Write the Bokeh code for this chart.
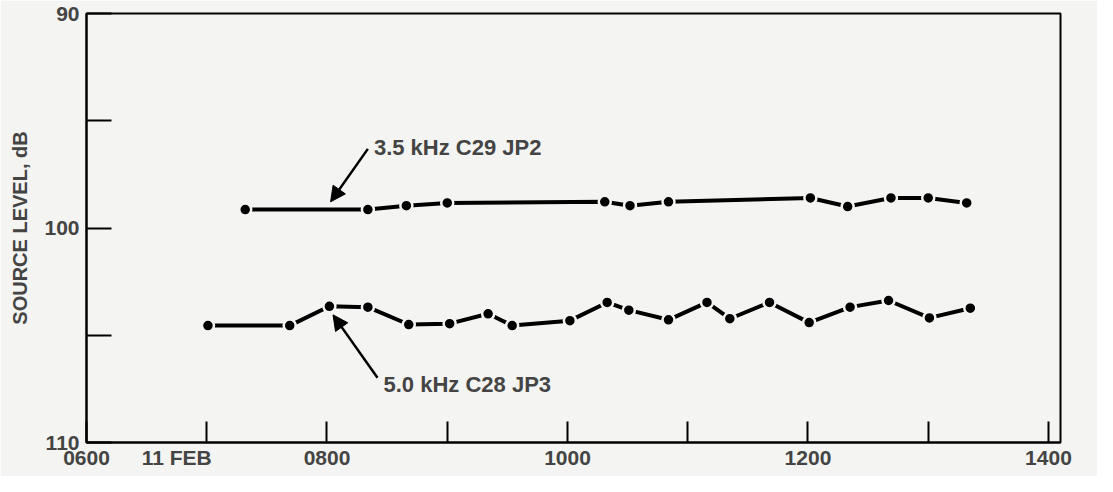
from bokeh.plotting import figure
from bokeh.models import Range1d, FixedTicker, Label, Arrow, NormalHead, LinearAxis
from bokeh.embed import file_html
from bokeh.resources import INLINE

# time of day in hours (11 FEB)
hours_35 = [7.32, 8.34, 8.66, 9.00, 10.31, 10.52, 10.84, 12.02, 12.33, 12.69, 13.00, 13.32]
level_35 = [99.14, 99.14, 98.96, 98.83, 98.78, 98.96, 98.78, 98.60, 99.00, 98.60, 98.60, 98.83]

hours_50 = [7.01, 7.69, 8.02, 8.34, 8.68, 9.02, 9.34, 9.54, 10.02, 10.33, 10.51, 10.84,
            11.16, 11.35, 11.68, 12.01, 12.35, 12.67, 13.01, 13.35]
level_50 = [104.55, 104.55, 103.65, 103.69, 104.50, 104.46, 104.00, 104.55, 104.32, 103.47,
            103.83, 104.28, 103.47, 104.23, 103.47, 104.41, 103.69, 103.38, 104.19, 103.74]

x_ticks = [6, 7, 8, 9, 10, 11, 12, 13, 14]
x_label_hours = [6, 6.75, 8, 10, 12, 14]
x_label_texts = ["0600", "11 FEB", "0800", "1000", "1200", "1400"]
y_ticks = [90, 95, 100, 105, 110]
y_tick_labels = {90: "90", 95: "", 100: "100", 105: "", 110: "110"}

label_35 = "3.5 kHz C29 JP2"
label_50 = "5.0 kHz C28 JP3"
y_title = "SOURCE LEVEL, dB"

FONT = "Liberation Sans"
BG = "#f4f4f2"

p = figure(width=1097, height=476, output_backend="svg", toolbar_location=None,
           x_range=Range1d(6, 14.1), y_range=Range1d(110, 90),
           min_border_left=86, min_border_right=37, min_border_top=13, min_border_bottom=34)
p.background_fill_color = BG
p.border_fill_color = BG
p.grid.visible = False
p.outline_line_color = "black"
p.outline_line_width = 2

# tick marks of the time axis (no labels)
xa = p.xaxis[0]
xa.ticker = FixedTicker(ticks=x_ticks)
xa.major_label_overrides = {t: "" for t in x_ticks}
xa.major_label_text_font_size = "0px"
xa.major_label_standoff = 0
xa.major_tick_in = 21
xa.major_tick_out = 0
xa.minor_tick_line_color = None
xa.major_tick_line_width = 2
xa.axis_line_width = 2

# labels of the time axis
xl = LinearAxis(ticker=FixedTicker(ticks=x_label_hours),
                major_label_overrides=dict(zip(x_label_hours, x_label_texts)),
                axis_line_color=None, major_tick_line_color=None, minor_tick_line_color=None,
                major_tick_in=0, major_tick_out=0, major_label_standoff=3,
                major_label_text_font=FONT, major_label_text_font_style="bold",
                major_label_text_font_size="21px")
p.add_layout(xl, "below")

ya = p.yaxis[0]
ya.ticker = FixedTicker(ticks=y_ticks)
ya.major_label_overrides = y_tick_labels
ya.major_tick_in = 25
ya.major_tick_out = 0
ya.minor_tick_line_color = None
ya.major_tick_line_width = 2
ya.axis_line_width = 2
ya.major_label_text_font = FONT
ya.major_label_text_font_style = "bold"
ya.major_label_text_font_size = "21px"
ya.major_label_standoff = 7
ya.axis_label = y_title
ya.axis_label_text_font = FONT
ya.axis_label_text_font_style = "bold"
ya.axis_label_text_font_size = "20px"
ya.axis_label_standoff = 10

for hx, ly in ((hours_35, level_35), (hours_50, level_50)):
    p.line(hx, ly, line_color="black", line_width=4)
    p.scatter(hx, ly, size=12, fill_color="black", line_color=BG, line_width=2.5)

p.add_layout(Arrow(x_start=8.34, y_start=96.31, x_end=8.03, y_end=98.78, line_width=2.5,
                   end=NormalHead(size=15, fill_color="black", line_color="black")))
p.add_layout(Arrow(x_start=8.42, y_start=106.98, x_end=8.05, y_end=104.05, line_width=2.5,
                   end=NormalHead(size=15, fill_color="black", line_color="black")))

p.add_layout(Label(x=8.39, y=96.26, text=label_35, text_align="left", text_baseline="middle",
                   text_font=FONT, text_font_style="bold", text_font_size="22px"))
p.add_layout(Label(x=8.47, y=107.3, text=label_50, text_align="left", text_baseline="middle",
                   text_font=FONT, text_font_style="bold", text_font_size="22px"))

open("out.html", "w").write(file_html(p, INLINE))
